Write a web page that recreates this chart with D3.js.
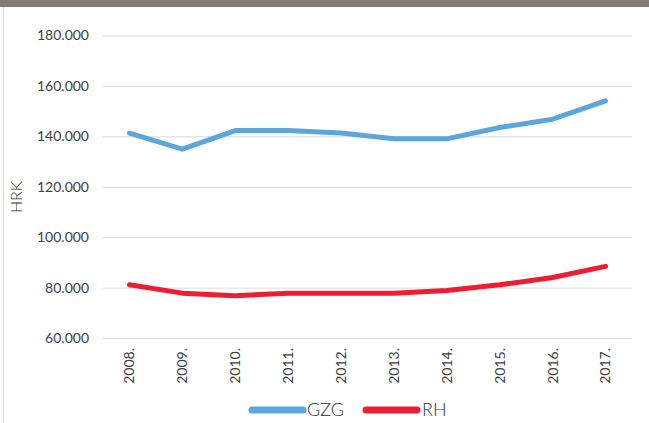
<!DOCTYPE html>
<html><head><meta charset="utf-8">
<script src="https://cdn.jsdelivr.net/npm/d3@7"></script>
<style>
html,body{margin:0;padding:0;background:#fff;}
svg{display:block;font-family:Lato,"Open Sans",sans-serif;}
</style></head>
<body>
<svg id="c" width="649" height="423"></svg>
<script>
const years = ["2008.","2009.","2010.","2011.","2012.","2013.","2014.","2015.","2016.","2017."];
const gzg = [141.3,134.9,142.3,142.3,141.3,139.0,139.0,143.5,146.8,154.1];
const rh = [81.1,77.8,76.8,77.8,77.8,77.8,78.8,81.1,84.0,88.4];
const yTicks = [60,80,100,120,140,160,180];
const seriesNames = ["GZG","RH"];
const colors = ["#5BA7DC","#EE1D31"];

const svg = d3.select("#c");
svg.append("rect").attr("x",0).attr("y",0).attr("width",649).attr("height",7).attr("fill","#877B73");
svg.append("line").attr("x1",3.5).attr("x2",3.5).attr("y1",7).attr("y2",423).attr("stroke","#d9d9d9").attr("stroke-width",1);

const x = d3.scaleBand().domain(years).range([103,632]);
const y = d3.scaleLinear().domain([60,180]).range([338,35.5]);

const yAxis = d3.axisLeft(y).tickValues(yTicks).tickSize(-529).tickPadding(14)
  .tickFormat(d => d3.format(",")(d*1000).replace(/,/g,"."));
const gy = svg.append("g").attr("transform","translate(103,0)").call(yAxis);
gy.select(".domain").remove();
gy.selectAll(".tick line").attr("stroke","#d9d9d9").attr("stroke-width",1);
gy.selectAll(".tick text").attr("font-size","14px").attr("fill","#404040").attr("font-family","Lato");

const gx = svg.append("g").attr("transform","translate(0,338)").call(d3.axisBottom(x).tickSize(0).tickPadding(0));
gx.select(".domain").remove();
gx.selectAll(".tick text").attr("font-size","14px").attr("fill","#404040").attr("font-family","Lato")
  .attr("transform","translate(0,10) rotate(-90)").attr("text-anchor","end").attr("dy","0.35em").attr("x",0).attr("y",0);

svg.append("text").attr("transform","translate(16,197) rotate(-90)").attr("text-anchor","middle").attr("dy","0.35em")
  .attr("font-size","16px").attr("font-weight",300).attr("fill","#303030").text("HRK");

const line = d3.line().x((d,i)=>x(years[i])+x.bandwidth()/2).y(d=>y(d));
[gzg,rh].forEach((s,k)=>{
  svg.append("path").datum(s).attr("d",line).attr("fill","none").attr("stroke",colors[k])
    .attr("stroke-width",5).attr("stroke-linecap","round").attr("stroke-linejoin","round");
});

const leg = [[252,303,307],[366,417,422]];
seriesNames.forEach((n,k)=>{
  svg.append("line").attr("x1",leg[k][0]).attr("x2",leg[k][1]).attr("y1",410).attr("y2",410)
    .attr("stroke",colors[k]).attr("stroke-width",7).attr("stroke-linecap","round");
  svg.append("text").attr("x",leg[k][2]).attr("y",410).attr("dy","0.35em").attr("font-size","18px").attr("font-weight",300)
    .attr("fill","#303030").text(n);
});
</script>
</body></html>
